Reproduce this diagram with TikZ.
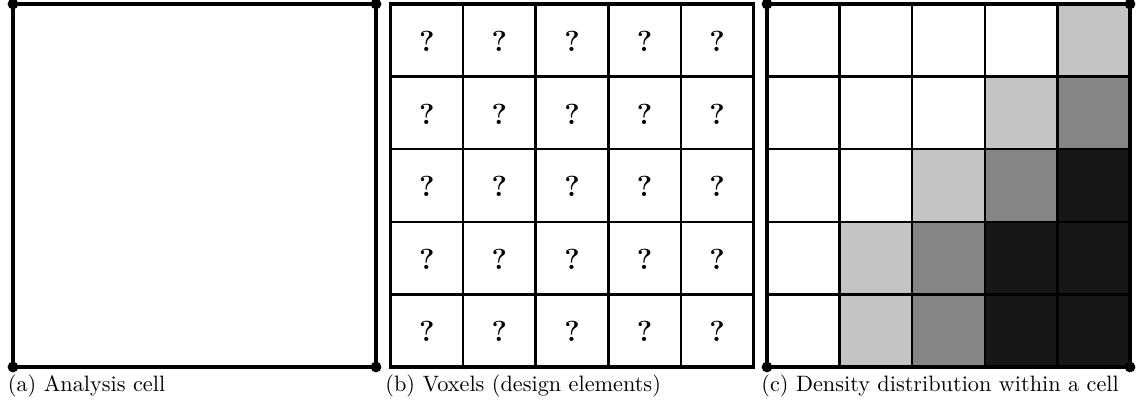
\documentclass[tikz,border=0pt]{standalone}
\usetikzlibrary{calc}
\definecolor{lightc}{gray}{0.77}
\definecolor{midc}{gray}{0.52}
\definecolor{darkc}{gray}{0.09}
\tikzset{
  frame/.style={line width=1.5pt, line cap=rect},
  gridline/.style={line width=1.2pt},
  corner/.style={circle, fill=black, inner sep=0pt, minimum size=5pt},
  qmark/.style={font=\fontsize{13.5}{15}\selectfont\bfseries, inner sep=0pt},
  caption/.style={anchor=base west, inner sep=0pt, font=\fontsize{10.35}{12}\selectfont}
}
\begin{document}
\begin{tikzpicture}[x=0.465pt, y=-0.465pt]
\useasboundingbox (0,0) rectangle (1141,414);
\def\cs{72.6}
% (a) analysis cell
\draw[frame] (13,4) rectangle (376,367);
\foreach \p/\n in {{13,4}/a1, {376,4}/a2, {13,367}/a3, {376,367}/a4}
  \node[corner] (\n) at (\p) {};
\node[caption] (capa) at (7.5,391) {(a) Analysis cell};
% (b) voxels
\foreach \i in {1,...,4} {
  \draw[gridline] ({390.5+\i*\cs},4) -- ({390.5+\i*\cs},367);
  \draw[gridline] (390.5,{4+\i*\cs}) -- (753.5,{4+\i*\cs});
}
\foreach \i in {0,...,4} \foreach \j in {0,...,4}
  \node[qmark] (q\i\j) at ({390.5+(\i+0.5)*\cs},{4+(\j+0.5)*\cs+1}) {?};
\draw[frame] (390.5,4) rectangle (753.5,367);
\node[caption] (capb) at (385,391) {(b) Voxels (design elements)};
% (c) density distribution
\def\fillcell#1#2#3{\fill[#3] ({767+#1*\cs},{4+#2*\cs}) rectangle ++(\cs,\cs);}
% col, row
\fillcell{4}{0}{lightc}
\fillcell{3}{1}{lightc}\fillcell{4}{1}{midc}
\fillcell{2}{2}{lightc}\fillcell{3}{2}{midc}\fillcell{4}{2}{darkc}
\fillcell{1}{3}{lightc}\fillcell{2}{3}{midc}\fillcell{3}{3}{darkc}\fillcell{4}{3}{darkc}
\fillcell{1}{4}{lightc}\fillcell{2}{4}{midc}\fillcell{3}{4}{darkc}\fillcell{4}{4}{darkc}
\foreach \i in {1,...,4} {
  \draw[gridline] ({767+\i*\cs},4) -- ({767+\i*\cs},367);
  \draw[gridline] (767,{4+\i*\cs}) -- (1130,{4+\i*\cs});
}
\draw[frame] (767,4) rectangle (1130,367);
\foreach \p/\n in {{767,4}/c1, {1130,4}/c2, {767,367}/c3, {1130,367}/c4}
  \node[corner] (\n) at (\p) {};
\node[caption] (capc) at (761,391) {(c) Density distribution within a cell};
\end{tikzpicture}
\end{document}
